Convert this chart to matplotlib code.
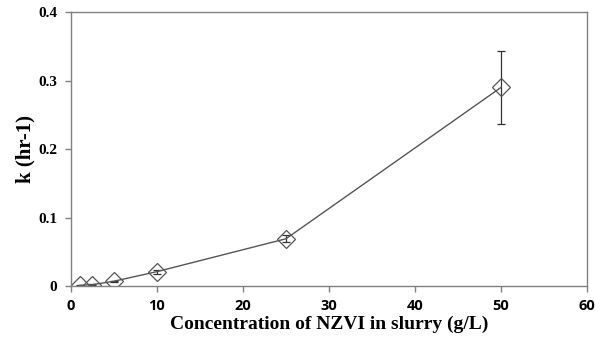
import numpy as np
import matplotlib.pyplot as plt

# NZVI concentration (g/L) vs rate constant k (hr-1)
conc = [1, 2.5, 5, 10, 25, 50]
k_vals = [0.001, 0.002, 0.007, 0.021, 0.069, 0.290]
k_err = [0.0005, 0.0005, 0.001, 0.003, 0.005, 0.053]

x_ticks = [0, 10, 20, 30, 40, 50, 60]
y_ticks = [0, 0.1, 0.2, 0.3, 0.4]
y_labels = ['0', '0.1', '0.2', '0.3', '0.4']

fig = plt.figure(figsize=(6.04, 3.49), dpi=100)
ax = fig.add_axes([0.1175, 0.1805, 0.8545, 0.785])

ax.errorbar(conc, k_vals, yerr=k_err, color='#555555', lw=1.0,
            marker='D', markersize=9.5, markerfacecolor='none',
            markeredgecolor='#555555', markeredgewidth=0.9,
            ecolor='#333333', elinewidth=0.9, capsize=3)

ax.set_xlim(0, 60)
ax.set_ylim(0, 0.4)
ax.set_xticks(x_ticks)
ax.set_yticks(y_ticks)
ax.set_yticklabels(y_labels)

for s in ax.spines.values():
    s.set_color('#808080')
    s.set_linewidth(1.0)

ax.tick_params(axis='both', direction='out', color='#808080', length=4, width=1)
ax.tick_params(axis='y', pad=6)
ax.tick_params(axis='x', pad=5)
for lab in ax.get_xticklabels():
    lab.set_fontfamily('Open Sans')
    lab.set_fontweight('bold')
    lab.set_fontsize(10.5)
for lab in ax.get_yticklabels():
    lab.set_fontfamily('Liberation Serif')
    lab.set_fontweight('bold')
    lab.set_fontsize(11)

ax.set_xlabel('Concentration of NZVI in slurry (g/L)', fontfamily='Liberation Serif',
              fontweight='bold', fontsize=14, labelpad=2)
ax.set_ylabel('k (hr-1)', fontfamily='Liberation Serif',
              fontweight='bold', fontsize=15, labelpad=2)

fig.savefig('out.png', dpi=100)
